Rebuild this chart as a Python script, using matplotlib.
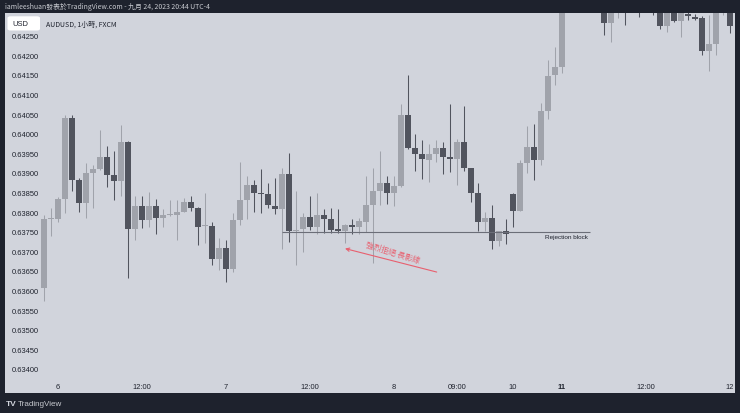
import matplotlib
matplotlib.use('Agg')
import matplotlib.pyplot as plt
from matplotlib.patches import FancyBboxPatch
import numpy as np

plt.rcParams['font.family'] = ['Liberation Sans', 'Noto Sans CJK TC', 'DejaVu Sans']

# ---------------- data (AUDUSD 1h, FXCM) ----------------
opens = [
    0.63607, 0.63783, 0.63783, 0.63834, 0.64041, 0.63882, 0.63824, 0.63900, 0.63911, 0.63941,
    0.63895, 0.63880, 0.63980, 0.63757, 0.63815, 0.63779, 0.63815, 0.63785, 0.63793, 0.63793,
    0.63801, 0.63827, 0.63811, 0.63764, 0.63765, 0.63681, 0.63709, 0.63655, 0.63779, 0.63832,
    0.63870, 0.63847, 0.63845, 0.63815, 0.63809, 0.63898, 0.63752, 0.63756, 0.63787, 0.63763,
    0.63792, 0.63783, 0.63754, 0.63752, 0.63768, 0.63763, 0.63776, 0.63817, 0.63853, 0.63875,
    0.63848, 0.63866, 0.64049, 0.63963, 0.63949, 0.63934, 0.63948, 0.63963, 0.63941, 0.63936,
    0.63979, 0.63912, 0.63849, 0.63776, 0.63785, 0.63725, 0.63751, 0.63847, 0.63804, 0.63926,
    0.63966, 0.63932, 0.64058, 0.64149, 0.64170, 0.64335, 0.64360, 0.64345, 0.64370, 0.64350,
    0.64330, 0.64283, 0.64325, 0.64335, 0.64320, 0.64330, 0.64315, 0.64325, 0.64320, 0.64276,
    0.64320, 0.64288, 0.64306, 0.64298, 0.64295, 0.64212, 0.64230, 0.64315, 0.64330,
]
closes = [
    0.63783, 0.63784, 0.63834, 0.64041, 0.63882, 0.63824, 0.63900, 0.63910, 0.63941, 0.63895,
    0.63880, 0.63980, 0.63757, 0.63815, 0.63779, 0.63815, 0.63785, 0.63793, 0.63794, 0.63801,
    0.63827, 0.63811, 0.63763, 0.63765, 0.63681, 0.63709, 0.63655, 0.63779, 0.63832, 0.63870,
    0.63848, 0.63846, 0.63817, 0.63807, 0.63898, 0.63751, 0.63754, 0.63787, 0.63762, 0.63793,
    0.63783, 0.63755, 0.63753, 0.63768, 0.63763, 0.63777, 0.63819, 0.63853, 0.63875, 0.63848,
    0.63866, 0.64049, 0.63963, 0.63949, 0.63936, 0.63949, 0.63963, 0.63941, 0.63936, 0.63979,
    0.63912, 0.63849, 0.63776, 0.63785, 0.63725, 0.63751, 0.63743, 0.63804, 0.63926, 0.63966,
    0.63932, 0.64058, 0.64147, 0.64170, 0.64335, 0.64360, 0.64345, 0.64370, 0.64350, 0.64340,
    0.64283, 0.64325, 0.64335, 0.64320, 0.64330, 0.64315, 0.64325, 0.64320, 0.64276, 0.64320,
    0.64288, 0.64318, 0.64300, 0.64293, 0.64212, 0.64230, 0.64315, 0.64325, 0.64274,
]
highs = [
    0.63793, 0.63811, 0.63839, 0.64047, 0.64047, 0.63888, 0.63926, 0.63920, 0.64010, 0.63969,
    0.63957, 0.64023, 0.63982, 0.63842, 0.63841, 0.63851, 0.63834, 0.63807, 0.63830, 0.63832,
    0.63837, 0.63842, 0.63814, 0.63849, 0.63775, 0.63735, 0.63729, 0.63798, 0.63928, 0.63893,
    0.63882, 0.63911, 0.63874, 0.63887, 0.63912, 0.63951, 0.63854, 0.63797, 0.63842, 0.63849,
    0.63809, 0.63810, 0.63809, 0.63769, 0.63783, 0.63784, 0.63892, 0.63913, 0.63957, 0.63892,
    0.63892, 0.64075, 0.64149, 0.63999, 0.63985, 0.63974, 0.63985, 0.63979, 0.64075, 0.63987,
    0.64072, 0.63913, 0.63875, 0.63800, 0.63819, 0.63752, 0.63783, 0.63849, 0.63932, 0.64021,
    0.64025, 0.64078, 0.64187, 0.64221, 0.64345, 0.64375, 0.64380, 0.64390, 0.64385, 0.64365,
    0.64345, 0.64340, 0.64350, 0.64350, 0.64345, 0.64340, 0.64340, 0.64335, 0.64330, 0.64335,
    0.64330, 0.64330, 0.64312, 0.64305, 0.64300, 0.64304, 0.64330, 0.64340, 0.64340,
]
lows = [
    0.63574, 0.63740, 0.63775, 0.63798, 0.63854, 0.63801, 0.63786, 0.63811, 0.63908, 0.63865,
    0.63831, 0.63842, 0.63632, 0.63729, 0.63759, 0.63763, 0.63745, 0.63763, 0.63791, 0.63730,
    0.63800, 0.63804, 0.63717, 0.63722, 0.63666, 0.63653, 0.63622, 0.63648, 0.63768, 0.63783,
    0.63800, 0.63798, 0.63810, 0.63796, 0.63705, 0.63724, 0.63666, 0.63698, 0.63755, 0.63743,
    0.63747, 0.63747, 0.63747, 0.63720, 0.63745, 0.63745, 0.63749, 0.63669, 0.63817, 0.63820,
    0.63815, 0.63865, 0.63962, 0.63904, 0.63885, 0.63878, 0.63928, 0.63898, 0.63902, 0.63868,
    0.63904, 0.63826, 0.63753, 0.63753, 0.63705, 0.63713, 0.63719, 0.63762, 0.63803, 0.63900,
    0.63881, 0.63921, 0.64038, 0.64125, 0.64156, 0.64320, 0.64330, 0.64335, 0.64335, 0.64320,
    0.64253, 0.64234, 0.64295, 0.64278, 0.64312, 0.64298, 0.64312, 0.64302, 0.64268, 0.64259,
    0.64285, 0.64247, 0.64291, 0.64290, 0.64202, 0.64159, 0.64202, 0.64304, 0.64257,
]

time_tick_bars = [2, 14, 26, 38, 50, 59, 67, 74, 86, 98]
time_tick_labels = ['6', '12:00', '7', '12:00', '8', '09:00', '10', '11', '12:00', '12']
price_ticks = [0.63400, 0.63450, 0.63500, 0.63550, 0.63600, 0.63650, 0.63700, 0.63750, 0.63800,
               0.63850, 0.63900, 0.63950, 0.64000, 0.64050, 0.64100, 0.64150, 0.64200, 0.64250]

rejection_level = 0.63750
rejection_start_bar = 34
rejection_end_bar = 78

header_text = 'iamleeshuan發表於TradingView.com - 九月 24, 2023 20:44 UTC-4'
symbol_text = 'AUDUSD, 1小時, FXCM'
annotation_text = '強烈拒絕 長影線'

# ---------------- style ----------------
W, H = 740, 414
BG_DARK = '#1e222d'
PANEL = '#d1d4dc'
UP = '#a0a3ab'
DOWN = '#51545e'
TEXT = '#1e222d'
RED = '#e8606f'

fig = plt.figure(figsize=(W / 100, H / 100), dpi=100, facecolor=BG_DARK)


def fx(px):
    return px / W


def fy(py):
    return 1 - py / H


# panel
left_px, top_px, right_px, bot_px = 5, 14, 735, 394
ax = fig.add_axes([fx(left_px), fy(bot_px), (right_px - left_px) / W, (bot_px - top_px) / H])
ax.set_facecolor(PANEL)
for s in ax.spines.values():
    s.set_visible(False)

# axis scales: bar i at pixel 44 + 7 i ; price scale 19.59 px per 0.0005
bar0_px, bar_step = 44, 7
ax.set_xlim((left_px - bar0_px) / bar_step, (right_px - bar0_px) / bar_step)
k = 0.0005 / 19.59
p_at = lambda y: 0.64250 - (y - 36.8) * k
ax.set_ylim(p_at(bot_px), p_at(top_px))

o = np.array(opens); c = np.array(closes); hi = np.array(highs); lo = np.array(lows)
idx = np.arange(len(o))
up = c >= o
cols = np.where(up, UP, DOWN)

ax.vlines(idx, lo, hi, colors=cols, linewidth=0.75, zorder=2)
bottoms = np.minimum(o, c)
heights = np.maximum(np.abs(c - o), 0.00003)
ax.bar(idx, heights, bottom=bottoms, width=0.72, color=cols, linewidth=0, zorder=3)

# rejection block line
ax.hlines(rejection_level, rejection_start_bar, rejection_end_bar, color='#6b6e78', linewidth=0.8, zorder=4)
ax.annotate('Rejection block', xy=(rejection_end_bar, rejection_level), xytext=(-1.5, -2),
            textcoords='offset points', ha='right', va='top', fontsize=4.6, color=TEXT)

# annotation arrow and text
ax.annotate('', xy=(43.0, 0.63707), xytext=(56.1, 0.63647),
            arrowprops=dict(arrowstyle='->', color=RED, lw=0.8, mutation_scale=6,
                            shrinkA=0, shrinkB=0), zorder=5)
ax.text(49.8, 0.63697, annotation_text, color=RED, fontsize=5.6, rotation=-17,
        ha='center', va='center', rotation_mode='anchor',
        family=['Noto Sans CJK TC', 'DejaVu Sans'])

# y ticks (inside, left)
ax.set_yticks(price_ticks)
ax.set_yticklabels([f'{p:.5f}' for p in price_ticks])
ax.tick_params(axis='y', length=0, pad=-4.6, labelsize=5.4, labelcolor=TEXT)
for lab in ax.get_yticklabels():
    lab.set_ha('left')

# x ticks (inside, bottom)
ax.set_xticks(time_tick_bars)
ax.set_xticklabels(time_tick_labels)
ax.tick_params(axis='x', length=0, pad=-7.0, labelsize=5.4, labelcolor=TEXT)
for lab in ax.get_xticklabels():
    if lab.get_text() == '11':
        lab.set_fontweight('bold')

# header
fig.text(fx(5), fy(7.2), header_text, color='#c8cad0', fontsize=4.95, va='center', ha='left',
         family=['Noto Sans CJK TC', 'DejaVu Sans'])
box = FancyBboxPatch((fx(7.5), fy(31.5)), 32.5 / W, 14.2 / H, boxstyle='round,pad=0,rounding_size=0.004',
                     transform=fig.transFigure, facecolor='white', edgecolor='none', zorder=10)
fig.add_artist(box)
fig.text(fx(20.5), fy(24.3), 'USD', color=TEXT, fontsize=5.4, va='center', ha='center', zorder=11)
fig.text(fx(46), fy(24.3), symbol_text, color=TEXT, fontsize=5.0, va='center', ha='left',
         family=['Noto Sans CJK TC', 'DejaVu Sans'], zorder=11)

# footer logo
fig.text(fx(5.5), fy(404.5), 'TV', color='#d1d4dc', fontsize=6, fontweight='bold', va='center', ha='left')
fig.text(fx(18), fy(404.5), 'TradingView', color='#c8cad0', fontsize=5.8, va='center', ha='left')

fig.savefig('out.png', dpi=100, facecolor=BG_DARK)
